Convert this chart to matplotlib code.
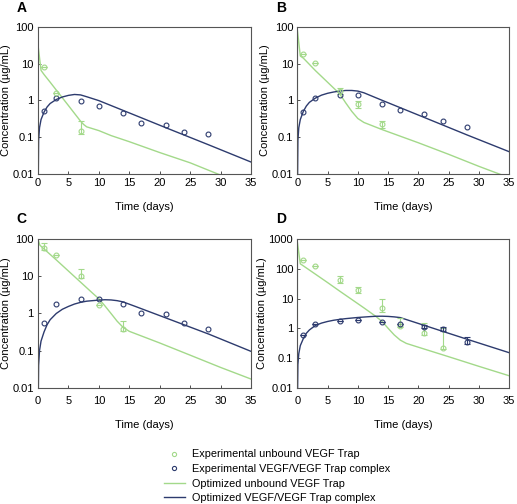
import matplotlib
matplotlib.use("Agg")
import matplotlib.pyplot as plt
from matplotlib.lines import Line2D

GREEN = "#a3d98a"
BLUE = "#2d3b6e"

# ---- Panel A ----
a_free_t = [1, 3, 7]
a_free_c = [8.2, 1.55, 0.15]
a_free_lo = [0, 0, 0.03]
a_free_hi = [0, 0, 0.12]
a_cplx_t = [1, 3, 7, 10, 14, 17, 21, 24, 28]
a_cplx_c = [0.52, 1.13, 0.93, 0.72, 0.46, 0.24, 0.21, 0.14, 0.12]
a_fit_free_t = [0, 0.02, 0.5, 1, 2, 3, 4, 5, 6, 7, 7.5, 8, 10, 12, 15, 20, 25, 29.5, 35]
a_fit_free_c = [0.001, 30, 6.5, 5.0, 3.1, 1.9, 1.17, 0.72, 0.44, 0.27, 0.22, 0.19, 0.15, 0.11, 0.075, 0.038, 0.02, 0.01, 0.0045]
a_fit_cplx_t = [0, 0.1, 0.25, 0.5, 1, 1.5, 2, 3, 4, 5, 6, 7, 8, 10, 14, 21, 28, 35]
a_fit_cplx_c = [0.001, 0.08, 0.18, 0.3, 0.48, 0.66, 0.82, 1.05, 1.23, 1.36, 1.44, 1.4, 1.25, 0.98, 0.53, 0.18, 0.062, 0.021]

# ---- Panel B ----
b_free_t = [1, 3, 7, 10, 14]
b_free_c = [18, 10.5, 1.8, 0.78, 0.22]
b_free_lo = [0, 0, 0.3, 0.15, 0.04]
b_free_hi = [0, 0, 0.35, 0.18, 0.05]
b_cplx_t = [1, 3, 7, 10, 14, 17, 21, 24, 28]
b_cplx_c = [0.47, 1.15, 1.42, 1.4, 0.8, 0.54, 0.43, 0.28, 0.19]
b_fit_free_t = [0, 0.02, 0.5, 1, 3, 5, 7, 8, 9, 10, 11, 14, 20, 25, 30, 33.3, 35]
b_fit_free_c = [0.001, 80, 16, 14, 6.4, 3.1, 1.5, 0.85, 0.5, 0.32, 0.25, 0.16, 0.07, 0.034, 0.016, 0.01, 0.008]
b_fit_cplx_t = [0, 0.1, 0.25, 0.5, 1, 1.5, 2, 3, 4, 5, 6, 7, 8, 9, 10, 11, 14, 21, 28, 35]
b_fit_cplx_c = [0.001, 0.08, 0.18, 0.3, 0.5, 0.7, 0.88, 1.15, 1.38, 1.55, 1.68, 1.78, 1.85, 1.85, 1.78, 1.6, 1.0, 0.34, 0.115, 0.04]

# ---- Panel C ----
c_free_t = [1, 3, 7, 10, 14]
c_free_c = [59, 37, 10.4, 1.65, 0.39]
c_free_lo = [8, 0, 1.5, 0, 0.05]
c_free_hi = [20, 0, 5, 0, 0.23]
c_cplx_t = [1, 3, 7, 10, 14, 17, 21, 24, 28]
c_cplx_c = [0.55, 1.83, 2.4, 2.4, 1.75, 1.02, 0.96, 0.56, 0.37]
c_fit_free_t = [0, 0.02, 0.3, 1, 3, 5, 7, 9, 10, 11, 12, 13, 14, 15, 20, 25, 30, 35]
c_fit_free_c = [0.001, 100, 70, 55, 28, 14, 7, 3.5, 2.5, 1.6, 1.0, 0.62, 0.42, 0.33, 0.16, 0.075, 0.035, 0.017]
c_fit_cplx_t = [0, 0.1, 0.25, 0.5, 1, 1.5, 2, 3, 4, 5, 6, 7, 8, 10, 11, 12, 13, 14, 16, 21, 28, 35]
c_fit_cplx_c = [0.001, 0.04, 0.1, 0.18, 0.32, 0.5, 0.68, 1.0, 1.3, 1.55, 1.8, 2.0, 2.15, 2.3, 2.35, 2.32, 2.22, 2.05, 1.55, 0.76, 0.28, 0.095]

# ---- Panel D ----
d_free_t = [1, 3, 7, 10, 14, 17, 21, 24]
d_free_c = [209, 126, 43, 19, 5.0, 1.2, 0.68, 0.21]
d_free_lo = [0, 0, 8, 3, 1.5, 0.1, 0.1, 0.01]
d_free_hi = [0, 0, 17, 6, 5, 1.0, 0.8, 0.8]
d_cplx_t = [1, 3, 7, 10, 14, 17, 21, 24, 28]
d_cplx_c = [0.6, 1.35, 1.8, 1.9, 1.65, 1.4, 1.15, 0.95, 0.35]
d_cplx_lo = [0, 0, 0, 0, 0, 0, 0.1, 0.15, 0.05]
d_cplx_hi = [0, 0, 0, 0, 0, 0, 0.1, 0.2, 0.15]
d_fit_free_t = [0, 0.02, 0.5, 1, 3, 5, 7, 9, 11, 13, 14, 15, 16, 17, 18, 20, 25, 30, 35]
d_fit_free_c = [0.001, 800, 150, 128, 67, 35, 18, 9.4, 4.9, 2.5, 1.7, 1.0, 0.6, 0.4, 0.31, 0.23, 0.11, 0.052, 0.025]
d_fit_cplx_t = [0, 0.1, 0.25, 0.5, 1, 1.5, 2, 3, 4, 5, 6, 7, 8, 10, 12, 13, 14, 15, 16, 17, 21, 28, 35]
d_fit_cplx_c = [0.001, 0.06, 0.14, 0.26, 0.45, 0.68, 0.88, 1.25, 1.5, 1.7, 1.87, 2.0, 2.12, 2.32, 2.48, 2.55, 2.56, 2.52, 2.43, 2.3, 1.25, 0.43, 0.15]

panels = [
    ("A", [0.0735, 0.655, 0.412, 0.292], (0.01, 100), False,
     a_free_t, a_free_c, a_free_lo, a_free_hi, a_cplx_t, a_cplx_c, None, None,
     a_fit_free_t, a_fit_free_c, a_fit_cplx_t, a_fit_cplx_c),
    ("B", [0.575, 0.655, 0.410, 0.292], (0.01, 100), False,
     b_free_t, b_free_c, b_free_lo, b_free_hi, b_cplx_t, b_cplx_c, None, None,
     b_fit_free_t, b_fit_free_c, b_fit_cplx_t, b_fit_cplx_c),
    ("C", [0.0735, 0.231, 0.412, 0.294], (0.01, 100), True,
     c_free_t, c_free_c, c_free_lo, c_free_hi, c_cplx_t, c_cplx_c, None, None,
     c_fit_free_t, c_fit_free_c, c_fit_cplx_t, c_fit_cplx_c),
    ("D", [0.575, 0.231, 0.410, 0.294], (0.01, 1000), True,
     d_free_t, d_free_c, d_free_lo, d_free_hi, d_cplx_t, d_cplx_c, d_cplx_lo, d_cplx_hi,
     d_fit_free_t, d_fit_free_c, d_fit_cplx_t, d_fit_cplx_c),
]

plt.rcParams['font.family'] = ['Liberation Sans', 'DejaVu Sans']
fig = plt.figure(figsize=(5.17, 5.04), dpi=100)

for (letter, rect, ylim, lower, ft, fc, flo, fhi, ct, cc, clo, chi,
     fft, ffc, fct, fcc) in panels:
    ax = fig.add_axes(rect)
    ax.set_yscale('log')
    ax.plot(fft, ffc, color=GREEN, lw=1.0, zorder=2)
    ax.plot(fct, fcc, color=BLUE, lw=1.0, zorder=2)
    ax.errorbar(ft, fc, yerr=[flo, fhi], fmt='o', ms=3.5, mfc='none', mec=GREEN,
                mew=0.8, ecolor=GREEN, elinewidth=0.8, capsize=2, capthick=0.8, zorder=3)
    if clo is not None:
        ax.errorbar(ct, cc, yerr=[clo, chi], fmt='o', ms=3.5, mfc='none', mec=BLUE,
                    mew=0.8, ecolor=BLUE, elinewidth=0.8, capsize=2, capthick=0.8, zorder=3)
    else:
        ax.plot(ct, cc, 'o', ms=3.5, mfc='none', mec=BLUE, mew=0.8, zorder=3)
    ax.set_xlim(0, 35)
    ax.set_ylim(*ylim)
    ax.set_xticks([0, 5, 10, 15, 20, 25, 30, 35])
    ticks = [0.01, 0.1, 1, 10, 100] if ylim[1] == 100 else [0.01, 0.1, 1, 10, 100, 1000]
    ax.set_yticks(ticks)
    ax.set_yticklabels([("%g" % v) for v in ticks])
    ax.minorticks_off()
    ax.tick_params(direction='in', length=2.5, width=0.6, labelsize=8, pad=3, colors='#333333',
                   labelcolor='black')
    if lower:
        ax.tick_params(axis='x', pad=6)
    for s in ax.spines.values():
        s.set_color('#555555')
        s.set_linewidth(0.8)
    ax.set_xlabel('Time (days)', fontsize=8, labelpad=10)
    ax.set_ylabel('Concentration (\u00b5g/mL)', fontsize=8, labelpad=1)
    ax.text(-0.10, 1.13 if not lower else 1.14, letter, transform=ax.transAxes, fontsize=10,
            fontweight='bold', ha='left', va='center')

handles = [
    Line2D([], [], ls='none', marker='o', ms=3, mfc='none', mec=GREEN, mew=0.8),
    Line2D([], [], ls='none', marker='o', ms=3, mfc='none', mec=BLUE, mew=0.8),
    Line2D([], [], color=GREEN, lw=1.0),
    Line2D([], [], color=BLUE, lw=1.0),
]
labels = ['Experimental unbound VEGF Trap', 'Experimental VEGF/VEGF Trap complex',
          'Optimized unbound VEGF Trap', 'Optimized VEGF/VEGF Trap complex']
fig.legend(handles, labels, loc='upper left', bbox_to_anchor=(0.306, 0.119), frameon=False,
           fontsize=7.8, handlelength=2.0, handletextpad=0.6, labelspacing=0.42, borderpad=0)

fig.savefig('out.png', dpi=100)
